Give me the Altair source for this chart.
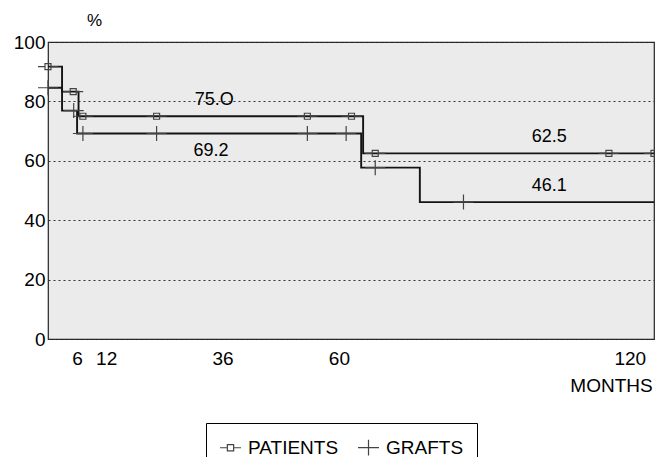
import altair as alt
import pandas as pd

# Kaplan-Meier step curves (month, % surviving)
pat_month = [0, 2.9, 6.3, 65.0, 125]
pat_surv = [91.7, 83.3, 75.0, 62.5, 62.5]
graft_month = [0, 2.9, 6.0, 64.6, 76.7, 125]
graft_surv = [84.6, 76.9, 69.2, 57.7, 46.1, 46.1]

# censoring marks
pat_cens_month = [0, 5.2, 7.2, 22.4, 53.5, 62.6, 67.5, 115.7, 125]
pat_cens_surv = [91.7, 83.3, 75.0, 75.0, 75.0, 75.0, 62.5, 62.5, 62.5]
graft_cens_month = [0, 5.3, 7.2, 22.4, 53.5, 61.5, 67.5, 85.7]
graft_cens_surv = [84.6, 76.9, 69.2, 69.2, 69.2, 69.2, 57.7, 46.1]

# value annotations
label_text = ["75.O", "69.2", "62.5", "46.1"]
label_month = [34.3, 33.6, 103.4, 103.4]
label_pct = [80.4, 63.2, 67.9, 51.5]

series = ["PATIENTS", "GRAFTS"]
x_ticks = [6, 12, 36, 60, 120]
y_ticks = [0, 20, 40, 60, 80, 100]

FONT = "Liberation Sans"

curves = pd.DataFrame(
    {"month": pat_month + graft_month,
     "surv": pat_surv + graft_surv,
     "curve": [series[0]] * len(pat_month) + [series[1]] * len(graft_month)}
)
cens = pd.DataFrame(
    {"month": pat_cens_month + graft_cens_month,
     "surv": pat_cens_surv + graft_cens_surv,
     "group": [series[0]] * len(pat_cens_month) + [series[1]] * len(graft_cens_month)}
)
labels = pd.DataFrame({"month": label_month, "surv": label_pct, "text": label_text})

x_enc = alt.X(
    "month:Q",
    scale=alt.Scale(domain=[0, 125], nice=False, zero=True),
    axis=alt.Axis(
        values=x_ticks, grid=False, ticks=False, domain=False,
        labelFont=FONT, labelFontSize=19, labelColor="black", labelPadding=10,
        title="MONTHS", titleFont=FONT, titleFontSize=19, titleFontWeight="normal",
        titleColor="black", titleAngle=0, titleX=563, titleY=46,
        titleAlign="center", titleBaseline="middle",
    ),
)
y_enc = alt.Y(
    "surv:Q",
    scale=alt.Scale(domain=[0, 100], nice=False),
    axis=alt.Axis(
        values=y_ticks, grid=True, gridDash=[2, 3], gridColor="#333", gridWidth=1,
        ticks=False, tickSize=0, domain=False,
        labelFont=FONT, labelFontSize=19, labelColor="black", labelPadding=3,
        title="%", titleFont=FONT, titleFontSize=17, titleFontWeight="normal",
        titleColor="black", titleAngle=0, titleX=46, titleY=-22,
        titleAlign="center", titleBaseline="middle",
    ),
)

lines = alt.Chart(curves).mark_line(
    interpolate="step-after", strokeWidth=1.9, color="#141414"
).encode(x=x_enc, y=y_enc, detail="curve:N")

PAT_PATH = "M-1,0L-0.3,0M0.3,0L1,0M-0.3,-0.3L0.3,-0.3L0.3,0.3L-0.3,0.3Z"
GRAFT_PATH = "M-1,0L1,0M0,-0.75L0,0.75"

marks = alt.Chart(cens).mark_point(
    filled=False, color="#444444", strokeWidth=1.2, opacity=1, size=400
).encode(
    x="month:Q", y="surv:Q",
    shape=alt.Shape(
        "group:N",
        scale=alt.Scale(domain=series, range=[PAT_PATH, GRAFT_PATH]),
        legend=alt.Legend(
            orient="none", legendX=158, legendY=381, direction="horizontal",
            title=None, strokeColor="black", fillColor="white", padding=13,
            labelFont=FONT, labelFontSize=19, labelColor="black", labelOffset=6,
            symbolSize=440, columnPadding=16, symbolStrokeColor="#444444",
            symbolStrokeWidth=1.2,
        ),
    ),
)

texts = alt.Chart(labels).mark_text(font=FONT, fontSize=18, color="black").encode(
    x="month:Q", y="surv:Q", text="text:N"
)

chart = (
    alt.layer(lines, marks, texts)
    .properties(
        width=606, height=297,
        autosize=alt.AutoSizeParams(type="none"),
        padding={"left": 40, "top": 34, "right": 1, "bottom": 118},
        background="white",
    )
    .configure_view(fill="#ebebeb", stroke="#222222", strokeWidth=1.2)
)

chart.save("out.html", embed_options={"renderer": "svg", "actions": False})
